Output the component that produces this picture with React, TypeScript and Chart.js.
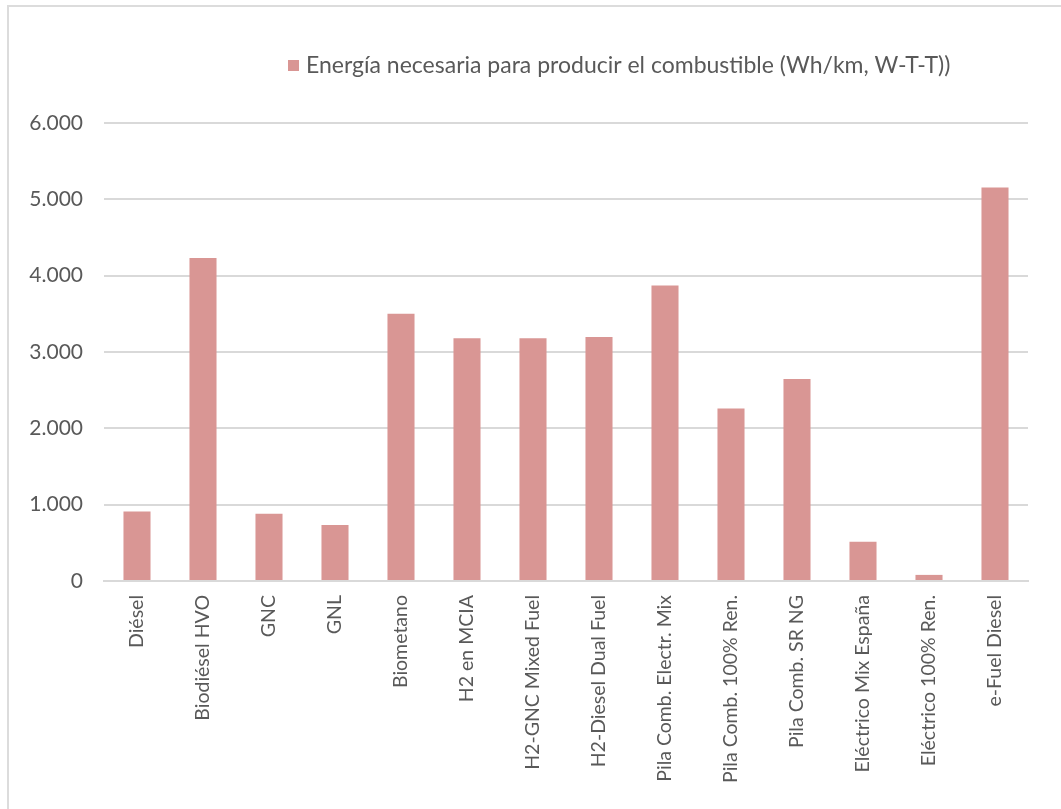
import React, { useEffect, useRef } from "react";
import { Chart, registerables } from "chart.js";

Chart.register(...registerables);

const categories = [
  "Diésel",
  "Biodiésel HVO",
  "GNC",
  "GNL",
  "Biometano",
  "H2 en MCIA",
  "H2-GNC Mixed Fuel",
  "H2-Diesel Dual Fuel",
  "Pila Comb. Electr. Mix",
  "Pila Comb. 100% Ren.",
  "Pila Comb. SR NG",
  "Eléctrico Mix España",
  "Eléctrico 100% Ren.",
  "e-Fuel Diesel",
];

const seriesLabel = "Energía necesaria para producir el combustible (Wh/km, W-T-T))";

const energyWhKm = [910, 4230, 880, 735, 3500, 3180, 3180, 3195, 3870, 2260, 2645, 515, 80, 5155];

const yTickLabels = ["0", "1.000", "2.000", "3.000", "4.000", "5.000", "6.000"];

const BAR_COLOR = "#D99694";
const TEXT_COLOR = "#595959";
const GRID_COLOR = "#D9D9D9";
const FONT = "Lato, 'Noto Sans', sans-serif";

// Single legend entry drawn above the plot, offset to the right like the source layout.
const topLegend = {
  id: "topLegend",
  afterDraw(chart: any) {
    const ctx = chart.ctx;
    const ds = chart.data.datasets[0];
    ctx.save();
    ctx.fillStyle = ds.backgroundColor;
    ctx.fillRect(288, 60, 11, 11);
    ctx.fillStyle = TEXT_COLOR;
    ctx.font = `23px ${FONT}`;
    ctx.textBaseline = "middle";
    ctx.textAlign = "left";
    ctx.fillText(ds.label, 306, 66);
    ctx.restore();
  },
};

export default function App() {
  const canvasRef = useRef<HTMLCanvasElement | null>(null);

  useEffect(() => {
    const canvas = canvasRef.current;
    if (!canvas) return;
    const chart = new Chart(canvas, {
      type: "bar",
      data: {
        labels: categories,
        datasets: [
          {
            label: seriesLabel,
            data: energyWhKm,
            backgroundColor: BAR_COLOR,
            borderWidth: 0,
            barPercentage: 0.41,
            categoryPercentage: 1,
          },
        ],
      },
      plugins: [topLegend],
      options: {
        responsive: false,
        animation: false,
        devicePixelRatio: 1,
        layout: { padding: { top: 123, right: 33, bottom: 0, left: 0 } },
        plugins: {
          legend: { display: false },
          tooltip: { enabled: false },
        },
        scales: {
          x: {
            grid: { display: false, drawTicks: false },
            border: { display: true, color: GRID_COLOR, width: 2 },
            ticks: {
              color: TEXT_COLOR,
              font: { family: FONT, size: 19.5 },
              minRotation: 90,
              maxRotation: 90,
              autoSkip: false,
              padding: 14,
            },
            afterFit: (scale: any) => {
              scale.height = 228;
            },
          },
          y: {
            min: 0,
            max: 6000,
            grid: { color: GRID_COLOR, lineWidth: 2, drawTicks: false },
            border: { display: false },
            ticks: {
              stepSize: 1000,
              color: TEXT_COLOR,
              font: { family: FONT, size: 21 },
              padding: 21,
              callback: (v: any) => yTickLabels[Math.round(Number(v) / 1000)] ?? "",
            },
            afterFit: (scale: any) => {
              scale.width = 104;
            },
          },
        },
      },
    });
    return () => chart.destroy();
  }, []);

  return (
    <div style={{ position: "fixed", left: 0, top: 0, width: 1061, height: 809, background: "#fff", overflow: "hidden" }}>
      <div
        style={{
          position: "absolute",
          left: 7,
          top: 5,
          width: 1200,
          height: 1000,
          borderLeft: "2px solid #DCDCDC",
          borderTop: "2px solid #DCDCDC",
        }}
      />
      <canvas
        ref={canvasRef}
        width={1061}
        height={809}
        style={{ position: "absolute", left: 0, top: 0, width: 1061, height: 809 }}
      />
    </div>
  );
}
